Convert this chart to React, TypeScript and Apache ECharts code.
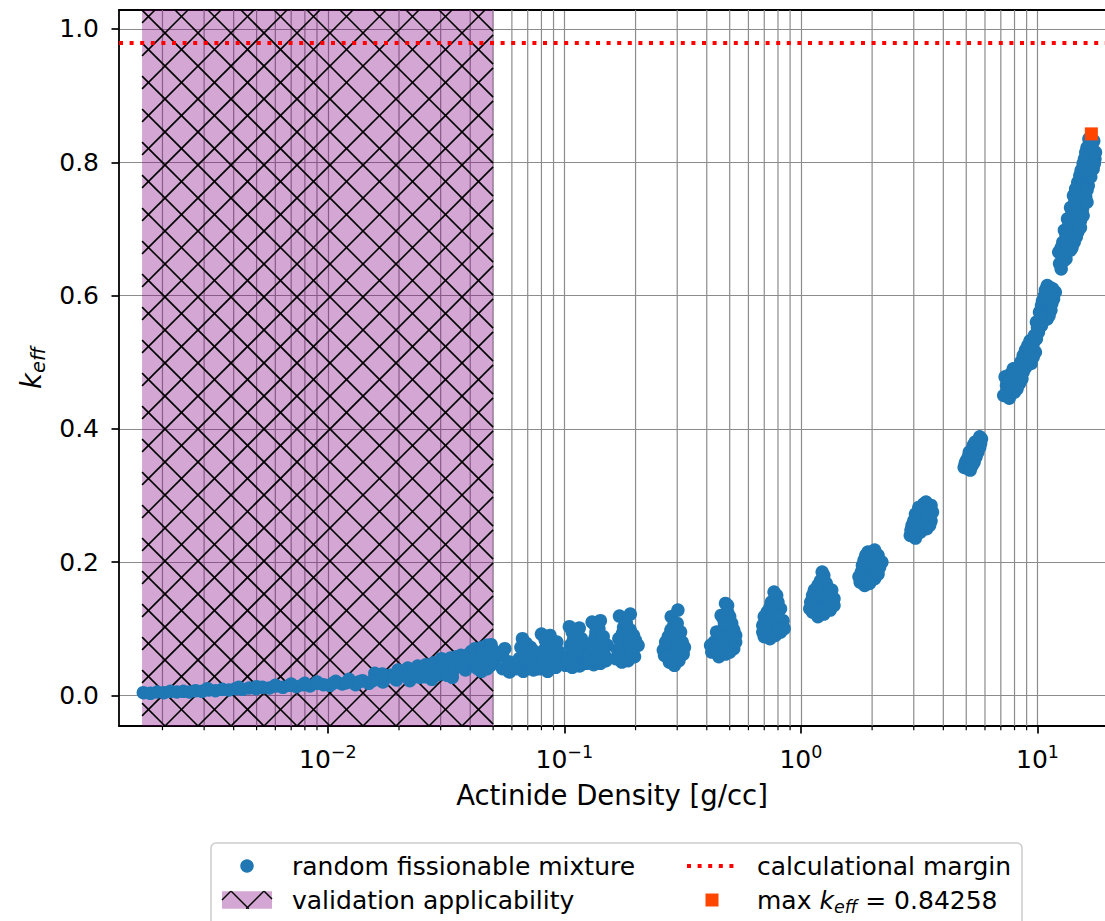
import React, { useEffect, useRef } from 'react';
import * as echarts from 'echarts';

// ---------- styling constants ----------
const FONT = '"DejaVu Sans", "Liberation Sans", sans-serif';
const BLUE = '#1f77b4';
const ORANGE = '#ff4500';
const RED = '#ff0000';
const PURPLE_FILL = 'rgba(128, 0, 128, 0.35)';
const GRID_COLOR = '#8c8c8c';

// ---------- axes ----------
const X_MIN = 0.00131;
const X_MAX = 19.3;
const Y_MIN = -0.046;
const Y_MAX = 1.0285;
const X_MAJOR_TICKS = [0.01, 0.1, 1, 10];
const X_MINOR_TICKS = [
  0.002, 0.003, 0.004, 0.005, 0.006, 0.007, 0.008, 0.009,
  0.02, 0.03, 0.04, 0.05, 0.06, 0.07, 0.08, 0.09,
  0.2, 0.3, 0.4, 0.5, 0.6, 0.7, 0.8, 0.9,
  2, 3, 4, 5, 6, 7, 8, 9,
];
const Y_TICKS = [0, 0.2, 0.4, 0.6, 0.8, 1.0];

// ---------- reference values ----------
const CALC_MARGIN = 0.98;
const VALIDATION_RANGE = [0.00164, 0.05];
const MAX_KEFF_POINT: [number, number] = [16.9, 0.84258];

// ---------- random fissionable mixture samples [density g/cc, keff] ----------
const LOW_BAND: [number, number][] = [
  [0.00166, 0.004], [0.00178, 0.003], [0.0019, 0.005], [0.00203, 0.004], [0.00216, 0.006],
  [0.0023, 0.005], [0.00245, 0.006], [0.0026, 0.005], [0.00276, 0.007], [0.00294, 0.006],
  [0.00314, 0.008], [0.00335, 0.007], [0.00358, 0.009], [0.00382, 0.008], [0.00408, 0.010],
  [0.00436, 0.009], [0.00465, 0.011], [0.00497, 0.010], [0.0053, 0.012], [0.00566, 0.011],
  [0.00605, 0.014], [0.00646, 0.012], [0.0069, 0.015], [0.00737, 0.013], [0.00787, 0.016],
  [0.0084, 0.014], [0.00897, 0.018], [0.00958, 0.016],
  [0.0031, 0.010], [0.0042, 0.012], [0.005, 0.013], [0.006, 0.015], [0.007, 0.017],
  [0.008, 0.018], [0.009, 0.020],
  [0.0102, 0.015], [0.0108, 0.021], [0.0115, 0.017], [0.0123, 0.024], [0.0131, 0.016],
  [0.014, 0.022], [0.0149, 0.018], [0.0158, 0.033], [0.016, 0.026], [0.0171, 0.020],
  [0.0183, 0.030], [0.0195, 0.023], [0.0208, 0.033], [0.0222, 0.022], [0.0236, 0.036],
  [0.0245, 0.027], [0.0258, 0.028], [0.0275, 0.041], [0.0294, 0.031], [0.0297, 0.050],
  [0.0315, 0.045], [0.0336, 0.034], [0.0275, 0.024], [0.0336, 0.027], [0.0358, 0.049],
  [0.0382, 0.038], [0.0405, 0.066], [0.0412, 0.045], [0.044, 0.055], [0.0446, 0.036],
  [0.047, 0.075], [0.0472, 0.040], [0.0478, 0.062], [0.0505, 0.050], [0.050, 0.068],
  [0.0105, 0.018], [0.012, 0.019], [0.0135, 0.020], [0.0155, 0.022], [0.0175, 0.026],
  [0.019, 0.027], [0.0215, 0.028], [0.0232, 0.030], [0.0265, 0.034], [0.0285, 0.036],
  [0.0305, 0.040], [0.032, 0.030], [0.0348, 0.042], [0.037, 0.043], [0.039, 0.052],
  [0.0425, 0.060], [0.043, 0.040], [0.046, 0.047], [0.049, 0.058], [0.0488, 0.045],
  [0.017, 0.032], [0.0198, 0.038], [0.0218, 0.041], [0.024, 0.044], [0.026, 0.046],
  [0.0282, 0.049], [0.0302, 0.055], [0.033, 0.056], [0.035, 0.058], [0.0365, 0.060],
  [0.0395, 0.062], [0.042, 0.070], [0.045, 0.072], [0.0455, 0.064], [0.049, 0.076],
];

const MID_CLUSTERS: [number, number][] = [
  // ~0.057
  [0.0548, 0.040], [0.0586, 0.050], [0.0548, 0.060], [0.0586, 0.035], [0.056, 0.070], [0.058, 0.045],
  // ~0.07
  [0.0627, 0.040], [0.0671, 0.036], [0.0719, 0.045], [0.0769, 0.040], [0.0645, 0.055], [0.070, 0.060],
  [0.075, 0.052], [0.0671, 0.070], [0.072, 0.072], [0.0665, 0.085], [0.066, 0.047], [0.074, 0.038],
  [0.0635, 0.048], [0.069, 0.052], [0.0735, 0.058], [0.068, 0.062], [0.0655, 0.072], [0.0745, 0.066],
  [0.069, 0.078],
  // ~0.087
  [0.079, 0.040], [0.085, 0.036], [0.092, 0.042], [0.081, 0.055], [0.088, 0.058], [0.094, 0.052],
  [0.083, 0.070], [0.090, 0.072], [0.080, 0.092], [0.087, 0.090], [0.086, 0.045], [0.095, 0.065],
  [0.082, 0.046], [0.089, 0.048], [0.084, 0.062], [0.091, 0.062], [0.086, 0.078], [0.093, 0.080],
  [0.083, 0.083],
  // ~0.11
  [0.101, 0.045], [0.108, 0.042], [0.116, 0.044], [0.124, 0.048], [0.104, 0.058], [0.112, 0.062],
  [0.120, 0.058], [0.106, 0.075], [0.114, 0.078], [0.122, 0.070], [0.105, 0.103], [0.1156, 0.101],
  [0.110, 0.088], [0.104, 0.050], [0.112, 0.050], [0.120, 0.050], [0.108, 0.068], [0.117, 0.068],
  [0.125, 0.060], [0.109, 0.082], [0.118, 0.085], [0.108, 0.095],
  // ~0.14
  [0.125, 0.050], [0.133, 0.046], [0.142, 0.048], [0.150, 0.052], [0.128, 0.062], [0.138, 0.065],
  [0.148, 0.060], [0.130, 0.078], [0.140, 0.082], [0.152, 0.075], [0.136, 0.095], [0.131, 0.110],
  [0.142, 0.112], [0.128, 0.055], [0.137, 0.055], [0.146, 0.055], [0.133, 0.070], [0.144, 0.070],
  [0.135, 0.087], [0.146, 0.088], [0.140, 0.100], [0.135, 0.105],
  // ~0.18
  [0.165, 0.055], [0.175, 0.050], [0.186, 0.052], [0.198, 0.058], [0.168, 0.068], [0.180, 0.072],
  [0.195, 0.068], [0.170, 0.085], [0.183, 0.090], [0.200, 0.082], [0.178, 0.102], [0.190, 0.098],
  [0.171, 0.119], [0.190, 0.122], [0.205, 0.075], [0.170, 0.060], [0.182, 0.060], [0.193, 0.062],
  [0.174, 0.077], [0.188, 0.078], [0.176, 0.093], [0.188, 0.088], [0.196, 0.090], [0.183, 0.108],
  [0.180, 0.115],
  // ~0.29
  [0.265, 0.060], [0.278, 0.050], [0.292, 0.045], [0.305, 0.052], [0.318, 0.062], [0.270, 0.075],
  [0.285, 0.072], [0.300, 0.068], [0.315, 0.080], [0.275, 0.088], [0.295, 0.090], [0.310, 0.095],
  [0.290, 0.105], [0.283, 0.118], [0.302, 0.128], [0.262, 0.068], [0.272, 0.058], [0.288, 0.058],
  [0.298, 0.078], [0.322, 0.072], [0.305, 0.085], [0.282, 0.098], [0.300, 0.108], [0.288, 0.082],
  [0.268, 0.080],
  // ~0.47
  [0.42, 0.065], [0.45, 0.058], [0.48, 0.062], [0.52, 0.070], [0.43, 0.080], [0.46, 0.085],
  [0.50, 0.078], [0.53, 0.090], [0.44, 0.095], [0.48, 0.100], [0.51, 0.108], [0.47, 0.115],
  [0.49, 0.125], [0.48, 0.138], [0.46, 0.120], [0.415, 0.075], [0.44, 0.070], [0.47, 0.072],
  [0.50, 0.065], [0.53, 0.080], [0.455, 0.095], [0.495, 0.090], [0.52, 0.098], [0.475, 0.108],
  [0.50, 0.118], [0.49, 0.135],
  // ~0.76
  [0.70, 0.088], [0.74, 0.085], [0.78, 0.090], [0.82, 0.095], [0.69, 0.105], [0.73, 0.110],
  [0.78, 0.108], [0.84, 0.112], [0.72, 0.125], [0.77, 0.128], [0.82, 0.130], [0.75, 0.140],
  [0.79, 0.150], [0.70, 0.118], [0.69, 0.095], [0.72, 0.098], [0.76, 0.098], [0.80, 0.102],
  [0.85, 0.100], [0.71, 0.112], [0.76, 0.118], [0.80, 0.120], [0.74, 0.132], [0.80, 0.140],
  [0.77, 0.155],
];

const HIGH_CLUSTERS: [number, number][] = [
  // ~1.2
  [1.12, 0.125], [1.18, 0.118], [1.25, 0.122], [1.33, 0.128], [1.10, 0.140], [1.17, 0.145],
  [1.26, 0.140], [1.35, 0.148], [1.14, 0.158], [1.22, 0.162], [1.30, 0.158], [1.21, 0.172],
  [1.25, 0.180], [1.38, 0.135], [1.09, 0.130], [1.15, 0.132], [1.22, 0.130], [1.30, 0.138],
  [1.38, 0.145], [1.12, 0.150], [1.20, 0.152], [1.28, 0.150], [1.35, 0.158], [1.18, 0.165],
  [1.28, 0.168], [1.23, 0.185],
  // ~2
  [1.78, 0.170], [1.86, 0.165], [1.95, 0.168], [2.05, 0.175], [1.80, 0.185], [1.90, 0.190],
  [2.00, 0.188], [2.15, 0.192], [1.85, 0.203], [1.95, 0.208], [2.08, 0.205], [1.92, 0.215],
  [2.05, 0.218], [2.20, 0.200], [1.76, 0.178], [1.83, 0.176], [1.92, 0.178], [2.02, 0.182],
  [2.12, 0.182], [1.82, 0.195], [1.88, 0.198], [1.98, 0.198], [2.10, 0.195], [1.88, 0.210],
  [2.00, 0.212], [2.12, 0.210],
  // ~3.2
  [2.90, 0.240], [3.05, 0.236], [3.20, 0.245], [3.40, 0.250], [2.95, 0.255], [3.15, 0.260],
  [3.35, 0.265], [3.55, 0.262], [3.05, 0.272], [3.25, 0.278], [3.45, 0.282], [3.30, 0.287],
  [3.60, 0.275], [2.92, 0.248], [3.10, 0.248], [3.30, 0.255], [3.50, 0.255], [3.00, 0.262],
  [3.22, 0.268], [3.42, 0.272], [3.15, 0.282], [3.38, 0.290], [3.55, 0.285], [3.00, 0.245],
  // ~5.3
  [4.9, 0.342], [5.1, 0.340], [5.3, 0.345], [5.0, 0.352], [5.25, 0.355], [5.5, 0.358],
  [5.15, 0.365], [5.45, 0.368], [5.7, 0.372], [5.35, 0.375], [5.6, 0.382], [5.8, 0.385],
  [5.5, 0.362], [4.95, 0.348], [5.2, 0.348], [5.4, 0.350], [5.1, 0.358], [5.35, 0.360],
  [5.6, 0.365], [5.3, 0.370], [5.55, 0.375], [5.75, 0.378], [5.45, 0.380], [5.7, 0.388],
  [5.2, 0.338],
  // ~8.5
  [7.2, 0.450], [7.6, 0.446], [8.0, 0.455], [7.4, 0.465], [7.9, 0.470], [8.4, 0.468],
  [7.7, 0.482], [8.2, 0.488], [8.7, 0.485], [8.5, 0.500], [9.0, 0.505], [9.4, 0.498],
  [8.9, 0.518], [9.4, 0.522], [9.8, 0.515], [9.3, 0.532], [9.9, 0.535], [7.3, 0.478],
  [7.4, 0.455], [7.8, 0.460], [8.2, 0.460], [7.6, 0.472], [8.1, 0.478], [8.6, 0.475],
  [7.9, 0.490], [8.4, 0.494], [8.9, 0.492], [8.7, 0.510], [9.2, 0.512], [9.6, 0.508],
  [9.1, 0.525], [9.6, 0.528], [9.7, 0.540],
  // ~11
  [9.9, 0.560], [10.4, 0.555], [11.0, 0.565], [10.2, 0.575], [10.8, 0.580], [11.4, 0.578],
  [10.5, 0.592], [11.1, 0.598], [11.7, 0.595], [10.8, 0.608], [11.3, 0.612], [11.9, 0.605],
  [10.1, 0.545], [10.0, 0.552], [10.6, 0.562], [11.2, 0.570], [10.4, 0.585], [11.0, 0.588],
  [11.5, 0.588], [10.7, 0.600], [11.4, 0.604], [11.0, 0.615], [11.6, 0.610], [10.3, 0.568],
  // ~15
  [12.6, 0.640], [12.9, 0.652], [12.3, 0.665], [13.0, 0.662], [13.8, 0.668], [12.8, 0.680],
  [13.6, 0.685], [14.3, 0.680], [13.0, 0.698], [13.9, 0.700], [14.8, 0.695], [13.4, 0.715],
  [14.3, 0.718], [15.2, 0.712], [13.8, 0.732], [14.6, 0.738], [15.5, 0.730], [14.2, 0.750],
  [15.0, 0.755], [16.0, 0.748], [14.8, 0.770], [15.6, 0.772], [16.4, 0.765], [15.3, 0.788],
  [16.2, 0.792], [17.2, 0.790], [15.8, 0.805], [16.6, 0.810], [17.5, 0.805], [16.2, 0.822],
  [17.0, 0.825], [16.5, 0.835], [12.4, 0.648], [13.2, 0.655], [12.6, 0.672], [13.4, 0.675],
  [14.0, 0.672], [13.2, 0.690], [14.0, 0.690], [14.6, 0.688], [13.6, 0.708], [14.4, 0.708],
  [15.2, 0.702], [14.0, 0.725], [14.9, 0.725], [15.6, 0.720], [14.4, 0.742], [15.3, 0.745],
  [16.2, 0.740], [14.5, 0.760], [15.3, 0.762], [16.2, 0.758], [15.1, 0.780], [15.9, 0.782],
  [16.8, 0.778], [15.6, 0.798], [16.5, 0.800], [17.4, 0.798], [16.0, 0.815], [16.9, 0.818],
  [17.6, 0.815], [16.6, 0.828], [17.3, 0.832],
];

// ---------- legend labels ----------
const LEGEND_MIXTURE = 'random fissionable mixture';
const LEGEND_VALIDATION = 'validation applicability';
const LEGEND_MARGIN = 'calculational margin';

const HATCH_SPACING = 33;

function hatchLines(x0: number, y0: number, x1: number, y1: number, s: number, lw: number) {
  const style = { stroke: '#000', lineWidth: lw };
  const out: any[] = [];
  const startA = Math.ceil((x0 + y0) / s) * s;
  for (let c = startA; c <= x1 + y1; c += s) {
    const xa = Math.max(x0, c - y1);
    const xb = Math.min(x1, c - y0);
    if (xb > xa) out.push({ type: 'line', silent: true, shape: { x1: xa, y1: c - xa, x2: xb, y2: c - xb }, style });
  }
  const startB = Math.ceil((y0 - x1) / s) * s;
  for (let c = startB; c <= y1 - x0; c += s) {
    const xa = Math.max(x0, y0 - c);
    const xb = Math.min(x1, y1 - c);
    if (xb > xa) out.push({ type: 'line', silent: true, shape: { x1: xa, y1: xa + c, x2: xb, y2: xb + c }, style });
  }
  return out;
}

function supLabel(v: number) {
  const lg = Math.log10(v);
  const e = Math.round(lg);
  if (Math.abs(lg - e) > 1e-6) return '';
  return `{b|10}{s|${e < 0 ? '\u2212' + -e : e}}`;
}

export default function App() {
  const ref = useRef<HTMLDivElement>(null);

  useEffect(() => {
    if (!ref.current) return;
    const chart = echarts.init(ref.current, undefined, { renderer: 'svg' });

    const txt = { fontFamily: FONT, fontSize: 25, color: '#000' };

    const legendY1 = 866;
    const legendY2 = 900;
    const legendChildren: any[] = [
      {
        type: 'rect',
        shape: { x: 211, y: 843, width: 811, height: 110, r: 5 },
        style: { fill: 'rgba(255,255,255,0.8)', stroke: '#cccccc', lineWidth: 1.5 },
      },
      { type: 'circle', shape: { cx: 247, cy: legendY1, r: 6.75 }, style: { fill: BLUE } },
      {
        type: 'text',
        style: { text: LEGEND_MIXTURE, x: 292, y: legendY1, verticalAlign: 'middle', fontFamily: FONT, fontSize: 25, fill: '#000' },
      },
      {
        type: 'rect',
        shape: { x: 222, y: legendY2 - 8.75, width: 50, height: 17.5 },
        style: { fill: PURPLE_FILL },
      },
      ...hatchLines(222, legendY2 - 8.75, 272, legendY2 + 8.75, HATCH_SPACING, 1.5),
      {
        type: 'text',
        style: { text: LEGEND_VALIDATION, x: 292, y: legendY2, verticalAlign: 'middle', fontFamily: FONT, fontSize: 25, fill: '#000' },
      },
      {
        type: 'line',
        shape: { x1: 687, y1: legendY1, x2: 737, y2: legendY1 },
        style: { stroke: RED, lineWidth: 4, lineDash: [4, 6.6] },
      },
      {
        type: 'text',
        style: { text: LEGEND_MARGIN, x: 757, y: legendY1, verticalAlign: 'middle', fontFamily: FONT, fontSize: 25, fill: '#000' },
      },
      { type: 'rect', shape: { x: 712 - 6.5, y: legendY2 - 6.5, width: 13, height: 13 }, style: { fill: ORANGE } },
      {
        type: 'text',
        style: {
          text: `{a|max }{k|k}{e|eff}{a| = ${MAX_KEFF_POINT[1].toFixed(5)}}`,
          x: 757,
          y: legendY2,
          verticalAlign: 'middle',
          rich: {
            a: { fontFamily: FONT, fontSize: 25, fill: '#000', lineHeight: 32 },
            k: { fontFamily: FONT, fontSize: 25, fontStyle: 'italic', fill: '#000', lineHeight: 32 },
            e: { fontFamily: FONT, fontSize: 17.5, fontStyle: 'italic', fill: '#000', lineHeight: 18, verticalAlign: 'bottom' },
          },
        },
      },
    ];

    const option: any = {
      animation: false,
      backgroundColor: '#ffffff',
      grid: { left: 119, top: 10, right: 0, bottom: 195, containLabel: false },
      xAxis: [
        {
          type: 'log',
          logBase: 10,
          min: X_MIN,
          max: X_MAX,
          name: 'Actinide Density [g/cc]',
          nameLocation: 'middle',
          nameGap: 55,
          nameTextStyle: { fontFamily: FONT, fontSize: 27.5, color: '#000' },
          axisLine: { show: true, onZero: false, lineStyle: { color: '#000', width: 1.8 } },
          axisTick: { show: true, length: 7.5, lineStyle: { color: '#000', width: 1.7 }, customValues: X_MAJOR_TICKS },
          axisLabel: {
            customValues: X_MAJOR_TICKS,
            formatter: supLabel,
            margin: 17,
            rich: {
              b: { fontFamily: FONT, fontSize: 25, color: '#000', lineHeight: 32 },
              s: { fontFamily: FONT, fontSize: 17.5, color: '#000', lineHeight: 18, verticalAlign: 'top' },
            },
          },
          splitLine: { show: true, lineStyle: { color: GRID_COLOR, width: 1.2 } },
        },
        {
          type: 'log',
          logBase: 10,
          min: X_MIN,
          max: X_MAX,
          position: 'top',
          axisLine: { show: true, onZero: false, lineStyle: { color: '#000', width: 1.8 } },
          axisTick: { show: false },
          axisLabel: { show: false },
          splitLine: { show: false },
        },
      ],
      yAxis: {
        type: 'value',
        min: Y_MIN,
        max: Y_MAX,
        name: '{k|k}{e|eff}',
        nameLocation: 'middle',
        nameRotate: 90,
        nameGap: 58,
        nameTextStyle: {
          rich: {
            k: { fontFamily: FONT, fontSize: 27.5, fontStyle: 'italic', color: '#000', lineHeight: 34 },
            e: { fontFamily: FONT, fontSize: 19.5, fontStyle: 'italic', color: '#000', lineHeight: 20, verticalAlign: 'bottom' },
          },
        },
        axisLine: { show: true, onZero: false, lineStyle: { color: '#000', width: 1.8 } },
        axisTick: { show: true, length: 7.5, lineStyle: { color: '#000', width: 1.7 }, customValues: Y_TICKS },
        axisLabel: {
          customValues: Y_TICKS,
          formatter: (v: number) => v.toFixed(1),
          margin: 20,
          ...txt,
        },
        splitLine: { show: true, lineStyle: { color: GRID_COLOR, width: 1.2 } },
      },
      graphic: [{ type: 'group', children: legendChildren }],
      series: [
        {
          type: 'custom',
          name: 'minor grid',
          silent: true,
          z: 1,
          clip: false,
          data: X_MINOR_TICKS.map((v) => [v, 0]),
          encode: { x: 0, y: 1 },
          renderItem: (params: any, api: any) => {
            const cs = params.coordSys;
            const x = api.coord([api.value(0), api.value(1)])[0];
            const yb = cs.y + cs.height;
            return {
              type: 'group',
              children: [
                { type: 'line', shape: { x1: x, y1: cs.y, x2: x, y2: yb }, style: { stroke: GRID_COLOR, lineWidth: 1.2 } },
                { type: 'line', shape: { x1: x, y1: yb, x2: x, y2: yb + 4.2 }, style: { stroke: '#000', lineWidth: 1.2 } },
              ],
            };
          },
        },
        {
          type: 'custom',
          name: LEGEND_VALIDATION,
          silent: true,
          z: 2,
          data: [[VALIDATION_RANGE[0], VALIDATION_RANGE[1]]],
          encode: { x: [0, 1] },
          renderItem: (params: any, api: any) => {
            const cs = params.coordSys;
            const x0 = api.coord([api.value(0), 0])[0];
            const x1 = api.coord([api.value(1), 0])[0];
            const y0 = cs.y;
            const y1 = cs.y + cs.height;
            return {
              type: 'group',
              children: [
                { type: 'rect', shape: { x: x0, y: y0, width: x1 - x0, height: y1 - y0 }, style: { fill: PURPLE_FILL } },
                ...hatchLines(x0, y0, x1, y1, HATCH_SPACING, 1.6),
              ],
            };
          },
        },
        {
          type: 'scatter',
          name: LEGEND_MIXTURE,
          z: 3,
          symbol: 'circle',
          symbolSize: 13.5,
          itemStyle: { color: BLUE, opacity: 1 },
          data: [...LOW_BAND, ...MID_CLUSTERS, ...HIGH_CLUSTERS],
        },
        {
          type: 'scatter',
          name: 'max keff',
          z: 5,
          symbol: 'rect',
          symbolSize: 13,
          itemStyle: { color: ORANGE, opacity: 1 },
          data: [MAX_KEFF_POINT],
          markLine: {
            silent: true,
            symbol: ['none', 'none'],
            label: { show: false },
            lineStyle: { color: RED, width: 4, type: [4, 6.6], opacity: 1 },
            data: [{ yAxis: CALC_MARGIN }],
          },
        },
      ],
    };

    chart.setOption(option);
    return () => chart.dispose();
  }, []);

  return (
    <div
      ref={ref}
      style={{ position: 'fixed', left: 0, top: 0, width: 1105, height: 921, background: '#fff' }}
    />
  );
}
